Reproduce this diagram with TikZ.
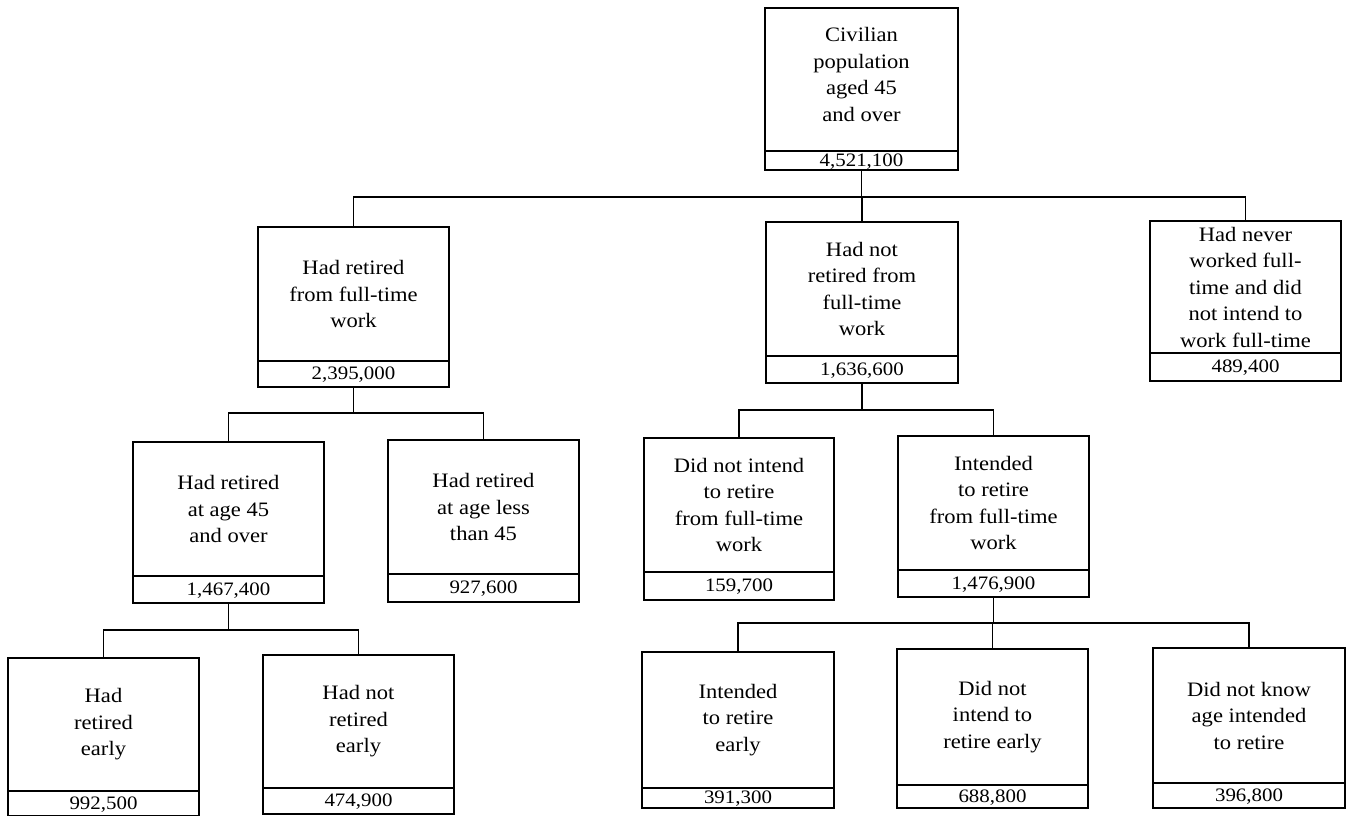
\documentclass[tikz,border=0pt]{standalone}
\usepackage{fontspec}
\setmainfont{Liberation Serif}[FakeStretch=1.1]
\tikzset{
  box/.style={draw, line width=1.3pt, inner sep=0pt, align=center, font=\fontsize{20.5}{26.5}\selectfont},
  valbox/.style={box, font=\fontsize{19}{22}\selectfont, text height=13pt, text depth=2pt},
  link/.style={line width=1.3pt},
}
% name, left, top, right, value line, bottom, text, value
\newcommand\tbox[8]{%
  \node[box, minimum width={(#4-#2)*1pt}, minimum height={(#5-#3)*1pt}] (#1) at ({(#2+#4)/2},{-(#3+#5)/2}) {#7};
  \node[valbox, minimum width={(#4-#2)*1pt}, minimum height={(#6-#5)*1pt}] (#1v) at ({(#2+#4)/2},{-(#5+#6)/2}) {#8};
}
\begin{document}
\begin{tikzpicture}[x=1pt,y=1pt]
\useasboundingbox (0,0) rectangle (1347,-816);
\fill[white] (0,0) rectangle (1347,-816);

\tbox{root}{765}{8}{958}{151}{170}{Civilian\\population\\aged 45\\and over\\[-16.5pt]}{4,521,100}
\tbox{A}{258}{227}{449}{361}{387}{Had retired\\from full-time\\work}{2,395,000}
\tbox{B}{766}{222}{958}{356}{383}{Had not\\retired from\\full-time\\work}{1,636,600}
\tbox{C}{1150}{221}{1341}{353}{381}{Had never\\worked full-\\time and did\\not intend to\\work full-time}{489,400}
\tbox{Aa}{133}{442}{324}{576}{603}{Had retired\\at age 45\\and over}{1,467,400}
\tbox{Ab}{388}{440}{579}{574}{602}{Had retired\\at age less\\than 45}{927,600}
\tbox{Ba}{644}{438}{834}{572}{600}{Did not intend\\to retire\\from full-time\\work}{159,700}
\tbox{Bb}{898}{436}{1089}{570}{597}{Intended\\to retire\\from full-time\\work}{1,476,900}
\tbox{Aaa}{8}{658}{199}{791}{816}{Had\\retired\\early}{992,500}
\tbox{Aab}{263}{655}{454}{788}{814}{Had not\\retired\\early}{474,900}
\tbox{Bba}{642}{652}{834}{788}{808}{Intended\\to retire\\early}{391,300}
\tbox{Bbb}{897}{649}{1088}{785}{808}{Did not\\intend to\\retire early}{688,800}
\tbox{Bbc}{1153}{648}{1345}{783}{808}{Did not know\\age intended\\to retire}{396,800}

\coordinate (bar0) at (0,-197);
\coordinate (barA) at (0,-413);
\coordinate (barB) at (0,-410);
\coordinate (barAa) at (0,-630);
\coordinate (barBb) at (0,-623);

\draw[link] (rootv.south) -- (rootv.south |- bar0);
\draw[link] (A.north) -- (A.north |- bar0) -| (C.north);
\draw[link] (B.north) -- (B.north |- bar0);

\draw[link] (Av.south) -- (Av.south |- barA);
\draw[link] (Aa.north) -- (Aa.north |- barA) -| (Ab.north);

\draw[link] (Bv.south) -- (Bv.south |- barB);
\draw[link] (Ba.north) -- (Ba.north |- barB) -| (Bb.north);

\draw[link] (Aav.south) -- (Aav.south |- barAa);
\draw[link] (Aaa.north) -- (Aaa.north |- barAa) -| (Aab.north);

\draw[link] (Bbv.south) -- (Bbv.south |- barBb);
\draw[link] (Bba.north) -- (Bba.north |- barBb) -| (Bbc.north);
\draw[link] (Bbb.north) -- (Bbb.north |- barBb);
\end{tikzpicture}
\end{document}
